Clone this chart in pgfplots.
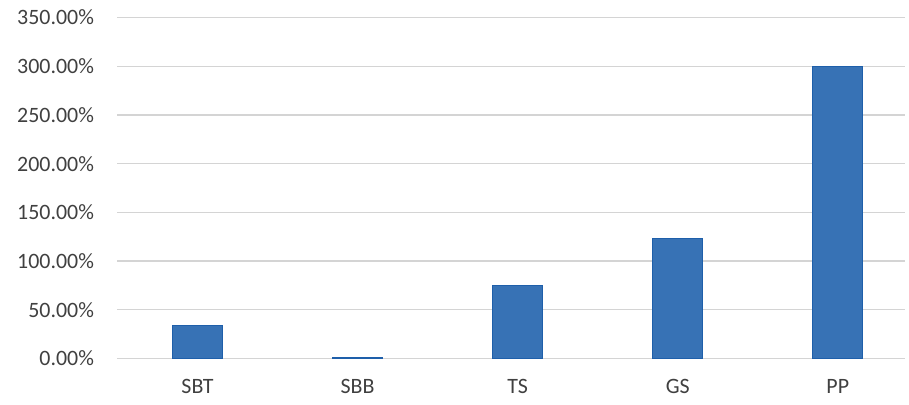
\documentclass[border=0pt]{standalone}
\usepackage{pgfplots}
\pgfplotsset{compat=1.18}
\usepackage{fontspec}
\setmainfont{Carlito}
\definecolor{barfill}{RGB}{55,114,181}
\definecolor{baredge}{RGB}{30,95,170}
\definecolor{gridc}{RGB}{212,212,212}
\definecolor{txt}{RGB}{64,64,64}
\begin{document}
\begin{tikzpicture}
\begin{axis}[
  scale only axis,
  width=787.5bp, height=341bp,
  xmin=-0.5, xmax=4.42,
  ymin=0, ymax=350,
  ytick={0,50,...,350},
  yticklabel={\pgfmathprintnumber[fixed,fixed zerofill,precision=2]{\tick}\%},
  /pgf/number format/assume math mode=true,
  xtick=data,
  xticklabels={SBT,SBB,TS,GS,PP},
  ymajorgrids,
  grid style={gridc, line width=1.4bp},
  axis line style={draw=none},
  major tick length=0pt,
  tick label style={font=\fontsize{22}{24}\selectfont, text=txt},
  yticklabel style={xshift=-20bp},
  xticklabel style={yshift=-17bp},
  axis on top=false,
]
\addplot[ybar, bar width=50bp, fill=barfill, draw=baredge, line width=1bp]
  coordinates {(0,33.8) (1,1.5) (2,74.5) (3,123.5) (4,299.5)};
\end{axis}
\pgfresetboundingbox
\path (current axis.south west) ++(-117.5bp,-46.5bp) rectangle ++(909bp,405bp);
\end{tikzpicture}
\end{document}
